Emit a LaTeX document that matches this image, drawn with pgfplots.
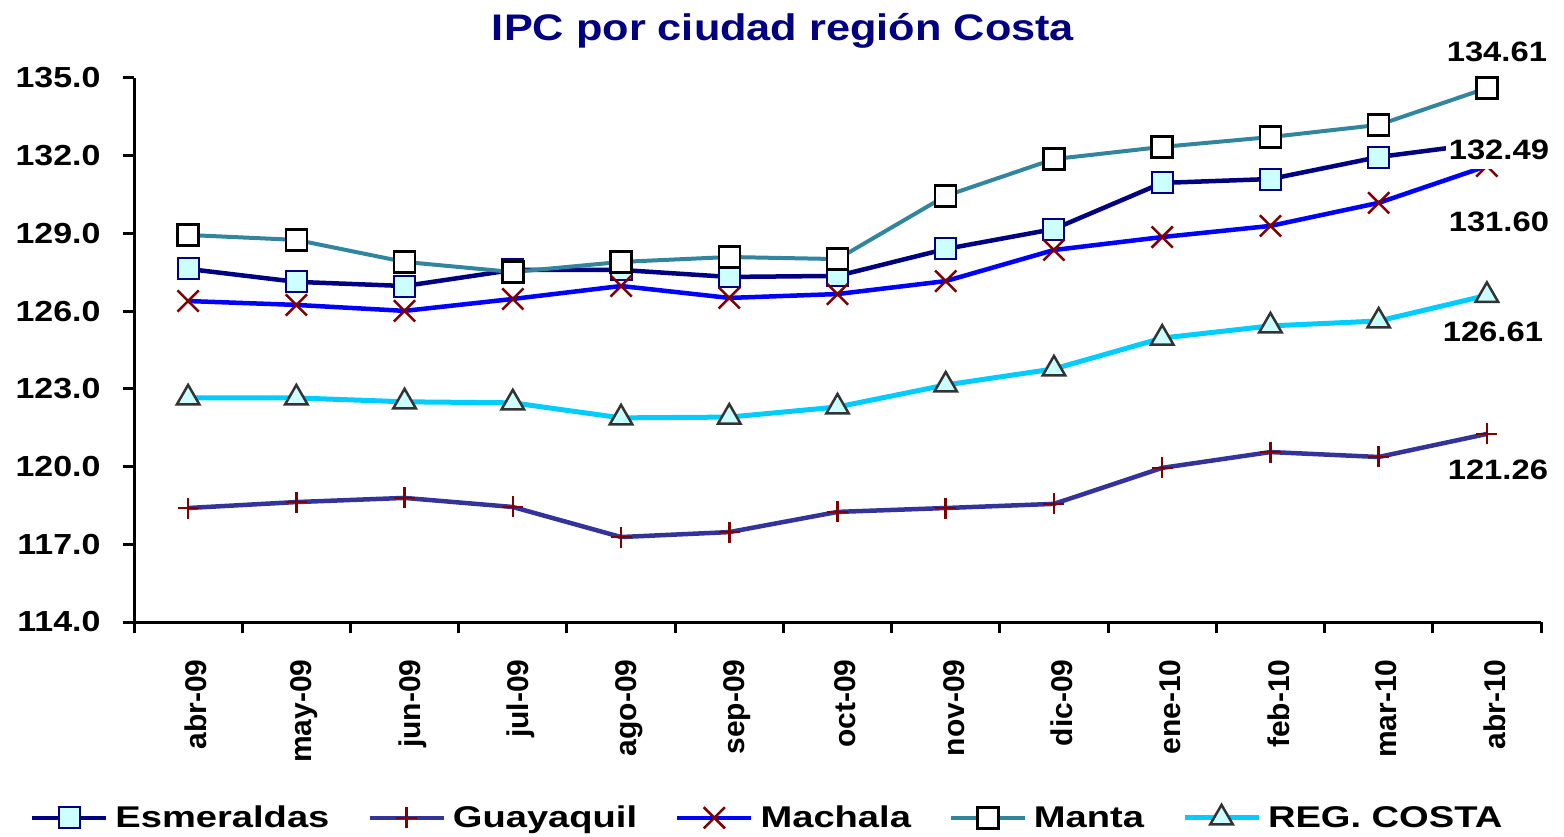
\documentclass[border=0pt]{standalone}
\usepackage{fontspec}
\setmainfont{Liberation Sans}[FakeStretch=1.17]
\newfontfamily\plainfont{Liberation Sans}
\newfontfamily\legfamily{Liberation Sans}[FakeStretch=1.27]
\usepackage{pgfplots}
\pgfplotsset{compat=1.18}
\definecolor{cEsm}{HTML}{000080}
\definecolor{cGua}{HTML}{333399}
\definecolor{cMac}{HTML}{0000FF}
\definecolor{cMan}{HTML}{31859C}
\definecolor{cReg}{HTML}{00CCFF}
\definecolor{cFill}{HTML}{CCFFFF}
\definecolor{cMark}{HTML}{800000}
\definecolor{cTri}{HTML}{333333}
\definecolor{cTitle}{HTML}{000080}
\newcommand{\tickfont}{\fontsize{29}{30}\selectfont\bfseries}
\newcommand{\labfont}{\fontsize{28}{30}\selectfont\bfseries}
\newcommand{\xfont}{\plainfont\fontsize{30}{31}\selectfont\bfseries}
\newcommand{\legfont}{\legfamily\fontsize{30}{31}\selectfont\bfseries}
\begin{document}
\begin{tikzpicture}
\path[use as bounding box] (0pt,0pt) rectangle (1564pt,836pt);
\node[font=\fontsize{37}{40}\selectfont\bfseries, text=cTitle] at (783pt,805pt) {IPC por ciudad región Costa};
\begin{axis}[
  at={(134pt,214pt)}, anchor=south west,
  scale only axis, width=1407pt, height=544pt,
  xmin=-0.5, xmax=12.5, ymin=114, ymax=135,
  axis x line*=bottom, axis y line*=left,
  axis line style={line width=3pt, black, -},
  clip=false,
  tick align=outside,
  major tick length=11pt, minor tick length=11pt,
  ytick={114,117,120,123,126,129,132,135},
  y tick style={line width=3pt, black},
  yticklabel style={font=\tickfont, xshift=-19pt, /pgf/number format/.cd, fixed, fixed zerofill, precision=1, assume math mode=true},
  xtick={0,...,12},
  xticklabels={abr-09,may-09,jun-09,jul-09,ago-09,sep-09,oct-09,nov-09,dic-09,ene-10,feb-10,mar-10,abr-10},
  major x tick style={draw=none},
  minor xtick={-0.5,0.5,...,12.5},
  minor x tick style={line width=3pt, black},
  xticklabel style={font=\xfont, xshift=8pt, yshift=-23pt, rotate=90, anchor=east},
  legend columns=5,
  legend style={draw=none, fill=none, at={(0.45,-0.36)}, anchor=center, font=\legfont,
    /tikz/every odd column/.append style={column sep=5pt},
    /tikz/every even column/.append style={column sep=36pt}},
  legend image code/.code={\draw[mark repeat=2, mark phase=2, #1] plot coordinates {(0pt,0pt) (37pt,0pt) (74pt,0pt)};},
  after end axis/.code={
    \node[font=\labfont, xshift=10pt, yshift=36pt] at (axis cs:12,134.61) {134.61};
    \node[font=\labfont, fill=white, inner xsep=3pt, inner ysep=9pt, xshift=12pt, yshift=-7pt] at (axis cs:12,132.49) {132.49};
    \node[font=\labfont, xshift=12pt, yshift=-56pt] at (axis cs:12,131.60) {131.60};
    \node[font=\labfont, xshift=6pt, yshift=-37pt] at (axis cs:12,126.61) {126.61};
    \node[font=\labfont, xshift=11pt, yshift=-36pt] at (axis cs:12,121.26) {121.26};
  },
]
\addplot[cEsm, line width=4.5pt, mark=square*, mark size=10.5pt, mark options={solid, fill=cFill, draw=cEsm, line width=2pt}]
 coordinates {(0,127.63) (1,127.13) (2,126.97) (3,127.59) (4,127.59) (5,127.32) (6,127.36) (7,128.40) (8,129.17) (9,130.95) (10,131.10) (11,131.95) (12,132.49)};
\addlegendentry{Esmeraldas}
\addplot[cGua, line width=4.5pt, mark=+, mark size=10.5pt, mark options={solid, draw=cMark, line width=2.5pt}]
 coordinates {(0,118.40) (1,118.63) (2,118.79) (3,118.44) (4,117.28) (5,117.47) (6,118.25) (7,118.40) (8,118.56) (9,119.95) (10,120.56) (11,120.37) (12,121.26)};
\addlegendentry{Guayaquil}
\addplot[cMac, line width=4.5pt, mark=x, mark size=15pt, mark options={solid, draw=cMark, line width=2.5pt}]
 coordinates {(0,126.39) (1,126.24) (2,126.01) (3,126.47) (4,126.97) (5,126.51) (6,126.66) (7,127.16) (8,128.36) (9,128.86) (10,129.29) (11,130.18) (12,131.60)};
\addlegendentry{Machala}
\addplot[cMan, line width=4pt, mark=square*, mark size=10.5pt, mark options={solid, fill=white, draw=black, line width=2.5pt}]
 coordinates {(0,128.94) (1,128.75) (2,127.90) (3,127.51) (4,127.90) (5,128.09) (6,128.01) (7,130.45) (8,131.87) (9,132.34) (10,132.72) (11,133.19) (12,134.61)};
\addlegendentry{Manta}
\addplot[cReg, line width=5pt, mark=triangle*, mark size=13pt, mark options={solid, fill=cFill, draw=cTri, line width=2.5pt}]
 coordinates {(0,122.65) (1,122.65) (2,122.50) (3,122.46) (4,121.88) (5,121.91) (6,122.30) (7,123.15) (8,123.77) (9,124.96) (10,125.43) (11,125.62) (12,126.61)};
\addlegendentry{REG. COSTA}
\end{axis}
\end{tikzpicture}
\end{document}
